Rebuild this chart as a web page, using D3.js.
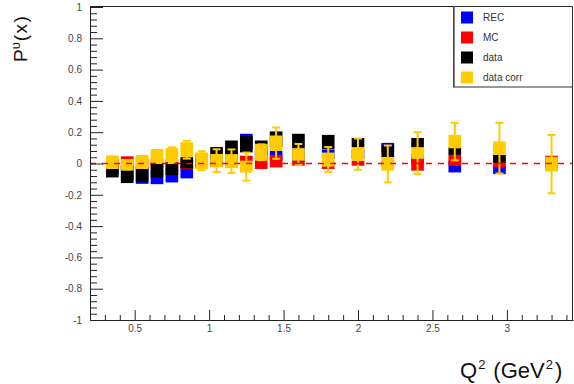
<!DOCTYPE html>
<html>
<head>
<meta charset="utf-8">
<script src="https://cdn.jsdelivr.net/npm/d3@7"></script>
<style>
  html, body { margin: 0; padding: 0; background: #fff; }
  svg { display: block; font-family: "Liberation Sans", Arial, Helvetica, sans-serif; }
</style>
</head>
<body>
<svg id="chart" width="574" height="384"></svg>
<script>
// ---- data ----
const q2 = [0.35, 0.45, 0.55, 0.65, 0.75, 0.85, 0.95, 1.05, 1.15, 1.25,
            1.35, 1.45, 1.6, 1.8, 2.0, 2.2, 2.4, 2.65, 2.95, 3.3];
const recVal  = [-0.03, -0.06, -0.08, -0.085, -0.075, -0.06, 0.0, 0.03, 0.05, 0.14,
                 0.05, 0.05, 0.06, 0.06, 0.06, 0.10, 0.03, -0.02, -0.04, 0.0];
const recErr  = [0.04, 0.05, 0.05, 0.047, 0.046, 0.035, 0.03, 0.03, 0.03, 0.05,
                 0.03, 0.032, 0.045, 0.03, 0.03, 0.032, 0.03, 0.037, 0.028, 0.03];
const mcVal   = [0.0, 0.0, 0.0, 0.0, 0.0, -0.005, 0.0, 0.0, 0.0, 0.03,
                 0.0, 0.015, 0.002, -0.01, 0.002, 0.0, -0.006, 0.02, -0.005, 0.005];
const mcErr   = [0.03, 0.046, 0.03, 0.03, 0.025, 0.032, 0.025, 0.02, 0.02, 0.02,
                 0.035, 0.04, 0.016, 0.025, 0.016, 0.02, 0.04, 0.035, 0.02, 0.045];
const dataVal = [-0.045, -0.07, -0.07, -0.045, -0.033, 0.005, 0.02, 0.07, 0.10, 0.123,
                 0.10, 0.155, 0.147, 0.138, 0.133, 0.08, 0.133, 0.08, 0.03, 0.0];
const dataErr = [0.044, 0.055, 0.05, 0.045, 0.041, 0.036, 0.04, 0.035, 0.047, 0.052,
                 0.047, 0.05, 0.043, 0.045, 0.03, 0.04, 0.03, 0.025, 0.025, 0.03];
const corrVal  = [0.008, -0.008, 0.01, 0.045, 0.053, 0.088, 0.018, 0.018, 0.015, -0.02,
                  0.072, 0.13, 0.058, 0.025, 0.06, -0.003, 0.066, 0.14, 0.098, -0.004];
const corrSys  = [0.043, 0.037, 0.045, 0.048, 0.045, 0.048, 0.053, 0.043, 0.045, 0.038,
                  0.054, 0.049, 0.04, 0.045, 0.043, 0.043, 0.036, 0.043, 0.043, 0.047];
const corrStat = [0.035, 0.03, 0.035, 0.04, 0.05, 0.057, 0.061, 0.073, 0.075, 0.09,
                  0.05, 0.10, 0.067, 0.08, 0.10, 0.118, 0.134, 0.12, 0.162, 0.186];

const xMajor = [0.5, 1, 1.5, 2, 2.5, 3];
const xMinor = [0.2, 0.3, 0.4, 0.6, 0.7, 0.8, 0.9, 1.1, 1.2, 1.3, 1.4, 1.6, 1.7, 1.8, 1.9,
                2.1, 2.2, 2.3, 2.4, 2.6, 2.7, 2.8, 2.9, 3.1, 3.2, 3.3, 3.4];
const yMajor = [-1, -0.8, -0.6, -0.4, -0.2, 0, 0.2, 0.4, 0.6, 0.8, 1];
const yMinor = d3.range(-25, 26).filter(i => i % 5 !== 0).map(i => i * 0.04);

const seriesNames = ["REC", "MC", "data", "data corr"];
const seriesColors = ["#0000ff", "#ff0000", "#000000", "#ffcc00"];

// ---- layout ----
const svg = d3.select("#chart");
const x = d3.scaleLinear().domain([0.2, 3.444]).range([90, 573]);
const y = d3.scaleLinear().domain([-1, 1]).range([320, 7]);
const binW = 0.085;
const fmt = d => (d === 0 ? "0" : String(+d.toFixed(1)).replace("\u2212", "-"));

// boxes
function drawBoxes(vals, errs, color) {
  svg.append("g").selectAll("rect")
    .data(q2.map((q, i) => ({ q, v: vals[i], e: errs[i] })))
    .join("rect")
    .attr("x", d => x(d.q - binW / 2))
    .attr("width", d => x(d.q + binW / 2) - x(d.q - binW / 2))
    .attr("y", d => y(d.v + d.e))
    .attr("height", d => y(d.v - d.e) - y(d.v + d.e))
    .attr("fill", color);
}
drawBoxes(recVal, recErr, seriesColors[0]);
drawBoxes(mcVal, mcErr, seriesColors[1]);
drawBoxes(dataVal, dataErr, seriesColors[2]);
drawBoxes(corrVal, corrSys, seriesColors[3]);

// data corr error bars
const eb = svg.append("g").attr("stroke", seriesColors[3]).attr("stroke-width", 2);
const ebData = q2.map((q, i) => ({ q, v: corrVal[i], s: corrStat[i] }));
eb.selectAll("line.v").data(ebData).join("line").attr("class", "v")
  .attr("x1", d => x(d.q)).attr("x2", d => x(d.q))
  .attr("y1", d => y(d.v - d.s)).attr("y2", d => y(d.v + d.s));
eb.selectAll("line.t").data(ebData).join("line").attr("class", "t")
  .attr("x1", d => x(d.q) - 4).attr("x2", d => x(d.q) + 4)
  .attr("y1", d => y(d.v + d.s)).attr("y2", d => y(d.v + d.s));
eb.selectAll("line.b").data(ebData).join("line").attr("class", "b")
  .attr("x1", d => x(d.q) - 4).attr("x2", d => x(d.q) + 4)
  .attr("y1", d => y(d.v - d.s)).attr("y2", d => y(d.v - d.s));

// zero dashed line
svg.append("line")
  .attr("x1", x(0.2)).attr("x2", x(3.444))
  .attr("y1", y(0)).attr("y2", y(0))
  .attr("stroke", "#ff0000").attr("stroke-width", 1.5)
  .attr("stroke-dasharray", "6,6");

// frame
svg.append("rect")
  .attr("x", 90.5).attr("y", 6.5)
  .attr("width", 572.5 - 90.5).attr("height", 320.5 - 6.5)
  .attr("fill", "none").attr("stroke", "#222").attr("stroke-width", 1);

// axes
const axColor = "#222";
const gx = svg.append("g").attr("transform", `translate(0,${320})`);
gx.call(d3.axisBottom(x).tickValues(xMajor).tickSizeInner(-10).tickSizeOuter(0)
  .tickPadding(5).tickFormat(fmt));
const gxm = svg.append("g").attr("transform", `translate(0,${320})`);
gxm.call(d3.axisBottom(x).tickValues(xMinor).tickSizeInner(-5).tickSizeOuter(0).tickFormat(""));
gxm.select(".domain").remove();

const gy = svg.append("g").attr("transform", `translate(${90},0)`);
gy.call(d3.axisLeft(y).tickValues(yMajor).tickSizeInner(-13).tickSizeOuter(0)
  .tickPadding(8).tickFormat(fmt));
const gym = svg.append("g").attr("transform", `translate(${90},0)`);
gym.call(d3.axisLeft(y).tickValues(yMinor).tickSizeInner(-7).tickSizeOuter(0).tickFormat(""));
gym.select(".domain").remove();

svg.selectAll(".domain, .tick line").attr("stroke", axColor);
svg.selectAll(".tick text")
  .attr("fill", "#444")
  .style("font-size", "10px")
  .style("font-family", '"Liberation Sans", Arial, sans-serif');

// axis titles
const xt = svg.append("text")
  .attr("x", 460).attr("y", 378)
  .attr("text-anchor", "start")
  .attr("fill", "#111")
  .style("font-size", "22px");
xt.append("tspan").text("Q");
xt.append("tspan").attr("dx", 1).attr("dy", -9).style("font-size", "13px").text("2");
xt.append("tspan").attr("dx", 8).attr("dy", 9).text("(GeV");
xt.append("tspan").attr("dx", 1).attr("dy", -9).style("font-size", "13px").text("2");
xt.append("tspan").attr("dx", 2).attr("dy", 9).text(")");

const yt = svg.append("text")
  .attr("transform", "translate(27,62) rotate(-90)")
  .attr("text-anchor", "start")
  .attr("fill", "#111")
  .style("font-size", "19px");
yt.append("tspan").text("P");
yt.append("tspan").attr("baseline-shift", "super").style("font-size", "13px").text("\u03c5");
yt.append("tspan").attr("dx", 1).style("letter-spacing", "1.5px").text("(x)");

// legend
const lg = svg.append("g");
lg.append("rect")
  .attr("x", 453.5).attr("y", 6.5).attr("width", 572.5 - 453.5).attr("height", 87 - 6.5)
  .attr("fill", "#fff").attr("stroke", "#333").attr("stroke-width", 1);
lg.append("line").attr("x1", 454).attr("x2", 454).attr("y1", 6.5).attr("y2", 87)
  .attr("stroke", "#555").attr("stroke-width", 1.5);
const items = lg.selectAll("g.item")
  .data(seriesNames.map((n, i) => ({ n, c: seriesColors[i], i })))
  .join("g").attr("class", "item")
  .attr("transform", d => `translate(0,${17.5 + d.i * 20})`);
items.append("rect").attr("x", 461).attr("y", -6).attr("width", 12).attr("height", 12)
  .attr("fill", d => d.c);
items.append("text").attr("x", 483).attr("y", 0).attr("dy", "0.35em")
  .attr("fill", "#333").style("font-size", "10px").text(d => d.n);
</script>
</body>
</html>
